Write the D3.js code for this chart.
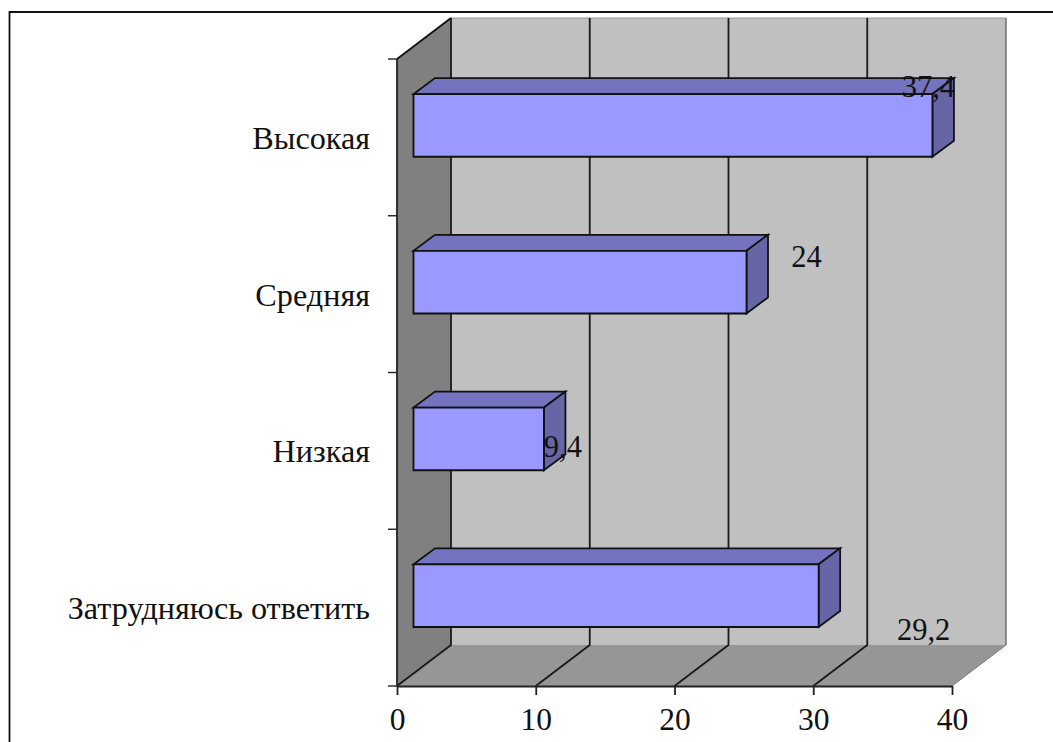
<!DOCTYPE html>
<html lang="ru">
<head>
<meta charset="utf-8">
<script src="https://cdn.jsdelivr.net/npm/d3@7/dist/d3.min.js"></script>
<style>
  html, body { margin: 0; padding: 0; background: #fff; }
  svg { display: block; }
  text { font-family: "Liberation Serif", "Times New Roman", serif; fill: #111; }
</style>
</head>
<body>
<svg id="chart" width="1053" height="742"></svg>
<script>
const categories = ["Высокая", "Средняя", "Низкая", "Затрудняюсь ответить"];
const values = [37.4, 24, 9.4, 29.2];
const valueLabels = ["37,4", "24", "9,4", "29,2"];
const xTicks = [0, 10, 20, 30, 40];

// Hand-placed value labels: offset from the end of each bar's front face
const labelNudge = [
  { dx: -4, dy: 3 },
  { dx: 60, dy: 16 },
  { dx: 19, dy: 49 },
  { dx: 105, dy: 76 }
];

const svg = d3.select("#chart");
const FONT_AXIS = 31.5;
const FONT_CATEGORY = 32.2;
const FONT_VALUE = 30.5;
const LINE = 1.8;

// Plot box on the front plane and the oblique depth of the box
const plotLeft = 397, plotRight = 952, plotTop = 59, plotBottom = 686;
const depthX = 54, depthY = -41;
// Bars sit part way into the depth of the box
const barDepthStart = { x: 16.5, y: -12 };
const barDepth = { x: 21.5, y: -16 };

const x = d3.scaleLinear().domain([0, 40]).range([plotLeft, plotRight]);
const y = d3.scaleBand().domain(categories).range([plotTop, plotBottom])
  .paddingInner(0.6).paddingOuter(0.3);
const yEdges = d3.scaleBand().domain(categories).range([plotTop, plotBottom]);

const poly = (pts, fill, stroke, sw) => svg.append("polygon")
  .attr("points", pts.map(p => p.join(",")).join(" "))
  .attr("fill", fill)
  .attr("stroke", stroke || "none")
  .attr("stroke-width", sw || 0)
  .attr("stroke-linejoin", "miter");

// Outer frame: top and left rules only
svg.append("path").attr("d", "M9.5,742V12H1053")
  .attr("fill", "none").attr("stroke", "#111").attr("stroke-width", LINE);

// Back wall
poly([[plotLeft + depthX, plotTop + depthY], [plotRight + depthX, plotTop + depthY],
      [plotRight + depthX, plotBottom + depthY], [plotLeft + depthX, plotBottom + depthY]], "#c0c0c0");
svg.append("line")
  .attr("x1", plotRight + depthX).attr("x2", plotRight + depthX)
  .attr("y1", plotTop + depthY).attr("y2", plotBottom + depthY)
  .attr("stroke", "#555").attr("stroke-width", 1.2);
svg.append("line")
  .attr("x1", plotLeft + depthX).attr("x2", plotRight + depthX)
  .attr("y1", plotTop + depthY).attr("y2", plotTop + depthY)
  .attr("stroke", "#999").attr("stroke-width", 1);

// Left wall
poly([[plotLeft, plotTop], [plotLeft + depthX, plotTop + depthY],
      [plotLeft + depthX, plotBottom + depthY], [plotLeft, plotBottom]], "#808080");
// Floor
poly([[plotLeft, plotBottom], [plotRight, plotBottom],
      [plotRight + depthX, plotBottom + depthY], [plotLeft + depthX, plotBottom + depthY]], "#969696");

// Grid lines run up the back wall and forward across the floor
xTicks.slice(0, -1).forEach(t => {
  svg.append("path")
    .attr("d", `M${x(t)},${plotBottom}L${x(t) + depthX},${plotBottom + depthY}L${x(t) + depthX},${plotTop + depthY}`)
    .attr("fill", "none").attr("stroke", "#1a1a1a").attr("stroke-width", LINE);
});
svg.append("line")
  .attr("x1", plotLeft).attr("y1", plotTop).attr("x2", plotLeft + depthX).attr("y2", plotTop + depthY)
  .attr("stroke", "#111").attr("stroke-width", LINE);
svg.append("line")
  .attr("x1", x(40)).attr("y1", plotBottom).attr("x2", x(40) + depthX).attr("y2", plotBottom + depthY)
  .attr("stroke", "#777").attr("stroke-width", 1);

// Axes along the front edges
const xAxis = svg.append("g").attr("transform", `translate(0,${plotBottom})`)
  .call(d3.axisBottom(x).tickValues(xTicks).tickSize(9).tickSizeOuter(0).tickPadding(13));
xAxis.selectAll("text").attr("font-size", FONT_AXIS).attr("fill", "#111")
  .style("font-family", '"Liberation Serif", serif');
xAxis.selectAll("line, path").attr("stroke", "#222").attr("stroke-width", LINE);

const edgeTicks = categories.map(c => yEdges(c)).concat(plotBottom);
svg.append("g").selectAll("line").data(edgeTicks).join("line")
  .attr("x1", plotLeft - 9).attr("x2", plotLeft)
  .attr("y1", d => d).attr("y2", d => d)
  .attr("stroke", "#222").attr("stroke-width", 1.4);
svg.append("line").attr("x1", plotLeft).attr("x2", plotLeft)
  .attr("y1", plotTop).attr("y2", plotBottom)
  .attr("stroke", "#222").attr("stroke-width", LINE);

// Category labels, right-aligned against the left wall
svg.append("g").selectAll("text").data(categories).join("text")
  .attr("x", 370)
  .attr("y", d => yEdges(d) + yEdges.bandwidth() / 2 + 4)
  .attr("text-anchor", "end")
  .attr("dominant-baseline", "middle")
  .attr("font-size", FONT_CATEGORY)
  .text(d => d);

// Bars: front face, top face and end face
categories.forEach((c, i) => {
  const x0 = x(0) + barDepthStart.x;
  const x1 = x(values[i]) + barDepthStart.x;
  const y0 = y(c) + barDepthStart.y;
  const y1 = y0 + y.bandwidth();
  const dx = barDepth.x, dy = barDepth.y;
  poly([[x0, y0], [x1, y0], [x1 + dx, y0 + dy], [x0 + dx, y0 + dy]], "#7373bf", "#111", LINE);
  poly([[x1, y0], [x1 + dx, y0 + dy], [x1 + dx, y1 + dy], [x1, y1]], "#6666a6", "#111", LINE);
  poly([[x0, y0], [x1, y0], [x1, y1], [x0, y1]], "#9999ff", "#111", LINE);
});

// Value labels
svg.append("g").selectAll("text").data(valueLabels).join("text")
  .attr("x", (d, i) => x(values[i]) + barDepthStart.x + labelNudge[i].dx)
  .attr("y", (d, i) => y(categories[i]) + barDepthStart.y + labelNudge[i].dy)
  .attr("font-size", FONT_VALUE)
  .attr("text-anchor", "middle")
  .text(d => d);
</script>
</body>
</html>
